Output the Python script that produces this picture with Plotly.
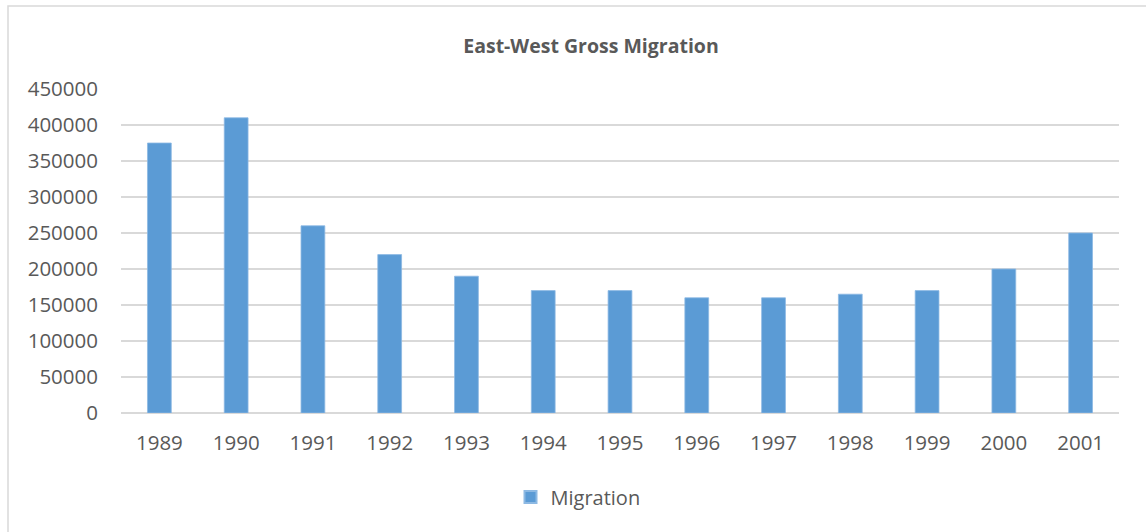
import plotly.graph_objects as go

years = ["1989", "1990", "1991", "1992", "1993", "1994", "1995", "1996", "1997", "1998", "1999", "2000", "2001"]
migration = [375000, 410000, 260000, 220000, 190000, 170000, 170000, 160000, 160000, 165000, 170000, 200000, 250000]
y_ticks = [0, 50000, 100000, 150000, 200000, 250000, 300000, 350000, 400000, 450000]

W, H = 1146, 532
L, R, T, B = 121, 27, 89, 119
pw, ph = W - L - R, H - T - B

text_color = "#595959"
grid_color = "#D9D9D9"
font_family = "Open Sans, Lato, sans-serif"

fig = go.Figure()
fig.add_trace(go.Bar(
    x=years, y=migration, name="Migration",
    marker=dict(color="#5B9BD5", line=dict(color="#8DB9E3", width=0.8)),
))

fig.update_layout(
    width=W, height=H,
    margin=dict(l=L, r=R, t=T, b=B),
    paper_bgcolor="white", plot_bgcolor="white",
    bargap=0.69,
    font=dict(family=font_family, color=text_color, size=20),
    title=dict(
        text="<b>East-West Gross Migration</b>",
        x=591 / W, xanchor="center",
        y=1 - 46.5 / H, yanchor="middle",
        font=dict(size=19.5, color=text_color, family=font_family),
    ),
    showlegend=True,
    legend=dict(
        orientation="h", x=0.5 + (578 - (L + pw / 2)) / pw, xanchor="center",
        y=(H - B - 497) / ph, yanchor="middle",
        font=dict(size=20, color=text_color),
        itemsizing="constant",
    ),
    xaxis=dict(
        type="category", showgrid=False, showline=False, zeroline=False,
        ticks="", ticklabelstandoff=15,
        tickfont=dict(size=20.5, color=text_color),
    ),
    yaxis=dict(
        range=[0, 450000], tickvals=y_ticks, ticktext=[str(v) for v in y_ticks],
        showgrid=True, gridcolor=grid_color, gridwidth=1.5,
        zeroline=True, zerolinecolor=grid_color, zerolinewidth=1.5,
        showline=False, ticks="", ticklabelstandoff=22,
        tickfont=dict(size=20.5, color=text_color),
    ),
    shapes=[dict(
        type="rect", xref="paper", yref="paper",
        x0=(8 - L) / pw, x1=1.2, y0=-0.6, y1=(H - B - 6) / ph,
        line=dict(color=grid_color, width=1.5), fillcolor="rgba(0,0,0,0)",
        layer="below",
    )],
)

fig.write_html("out.html")
